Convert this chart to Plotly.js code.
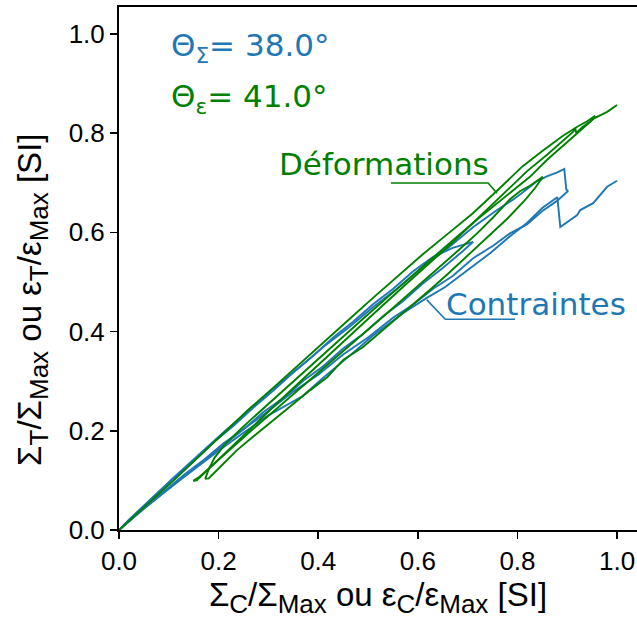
<!DOCTYPE html>
<html>
<head>
<meta charset="utf-8">
<script src="https://cdn.plot.ly/plotly-3.0.1.min.js"></script>
<style>html,body{margin:0;padding:0;background:#fff;}#chart{width:637px;height:621px;}</style>
</head>
<body>
<div id="chart"></div>
<script>
// ---- Contraintes (stress) paths, normalised ----
const sigLoadA_x = [0, 0.02, 0.05, 0.08, 0.11, 0.15, 0.19, 0.23, 0.27, 0.31, 0.35, 0.39, 0.43, 0.47, 0.51, 0.55, 0.59, 0.63, 0.67, 0.711];
const sigLoadA_y = [0, 0.021, 0.049, 0.077, 0.104, 0.139, 0.177, 0.21, 0.247, 0.281, 0.318, 0.351, 0.388, 0.42, 0.455, 0.486, 0.521, 0.55, 0.569, 0.581];
const sigUnloadA_x = [0.711, 0.69, 0.65, 0.61, 0.57, 0.53, 0.49, 0.45, 0.41, 0.37, 0.33, 0.29, 0.25, 0.21, 0.17, 0.13, 0.09, 0.05, 0.02, 0];
const sigUnloadA_y = [0.581, 0.562, 0.528, 0.497, 0.461, 0.431, 0.395, 0.366, 0.33, 0.301, 0.266, 0.238, 0.203, 0.175, 0.141, 0.111, 0.077, 0.045, 0.018, 0];
const sigLoadB_x = [0, 0.03, 0.07, 0.11, 0.16, 0.21, 0.26, 0.31, 0.36, 0.41, 0.46, 0.51, 0.56, 0.61, 0.66, 0.71, 0.759, 0.791, 0.811, 0.839, 0.859, 0.88, 0.894, 0.898, 0.902];
const sigLoadB_y = [0, 0.03, 0.068, 0.106, 0.152, 0.197, 0.24, 0.285, 0.326, 0.369, 0.407, 0.449, 0.488, 0.53, 0.568, 0.61, 0.645, 0.666, 0.681, 0.703, 0.713, 0.721, 0.728, 0.686, 0.684];
const sigUnloadB_x = [0.902, 0.88, 0.85, 0.819, 0.785, 0.751, 0.711, 0.67, 0.63, 0.59, 0.55, 0.5, 0.45, 0.4, 0.35, 0.3, 0.25, 0.2, 0.15, 0.1, 0.05, 0.02, 0];
const sigUnloadB_y = [0.684, 0.664, 0.643, 0.616, 0.598, 0.573, 0.548, 0.512, 0.486, 0.454, 0.428, 0.388, 0.354, 0.313, 0.279, 0.24, 0.203, 0.163, 0.124, 0.084, 0.043, 0.017, 0];
const sigLoadC_x = [0, 0.04, 0.09, 0.14, 0.2, 0.25, 0.3, 0.369, 0.41, 0.458, 0.51, 0.57, 0.618, 0.655, 0.7, 0.745, 0.785, 0.819, 0.851, 0.88, 0.886, 0.906, 0.92, 0.926, 0.952, 0.98, 1.0];
const sigLoadC_y = [0, 0.035, 0.076, 0.114, 0.16, 0.196, 0.231, 0.27, 0.307, 0.347, 0.392, 0.437, 0.468, 0.49, 0.524, 0.558, 0.592, 0.619, 0.65, 0.671, 0.611, 0.625, 0.635, 0.645, 0.659, 0.692, 0.704];

// ---- Déformations (strain) paths, normalised ----
const epsLoad1_x = [0, 0.03, 0.07, 0.11, 0.16, 0.21, 0.26, 0.31, 0.36, 0.41, 0.46, 0.51, 0.56, 0.61, 0.66, 0.71, 0.76, 0.81, 0.85, 0.89, 0.92, 0.94, 0.956];
const epsLoad1_y = [0, 0.028, 0.064, 0.1, 0.148, 0.197, 0.243, 0.287, 0.333, 0.378, 0.423, 0.468, 0.513, 0.556, 0.597, 0.638, 0.685, 0.733, 0.764, 0.794, 0.813, 0.824, 0.835];
const epsUnload1_x = [0.956, 0.946, 0.92, 0.892, 0.859, 0.825, 0.791, 0.759, 0.725, 0.685, 0.64, 0.59, 0.54, 0.49, 0.44, 0.39, 0.34, 0.29, 0.25, 0.215, 0.192, 0.18, 0.173];
const epsUnload1_y = [0.835, 0.823, 0.8, 0.776, 0.746, 0.712, 0.685, 0.659, 0.631, 0.597, 0.558, 0.514, 0.47, 0.426, 0.381, 0.336, 0.292, 0.247, 0.209, 0.175, 0.146, 0.122, 0.103];
const epsLoad2_x = [0.173, 0.18, 0.203, 0.237, 0.269, 0.303, 0.343, 0.384, 0.418, 0.45, 0.49, 0.53, 0.584, 0.624, 0.66, 0.7, 0.74, 0.78, 0.815, 0.835, 0.851];
const epsLoad2_y = [0.103, 0.104, 0.127, 0.161, 0.188, 0.216, 0.248, 0.282, 0.308, 0.343, 0.369, 0.403, 0.45, 0.484, 0.516, 0.553, 0.59, 0.628, 0.665, 0.689, 0.712];
const epsUnload2_x = [0.851, 0.825, 0.805, 0.785, 0.751, 0.719, 0.685, 0.64, 0.59, 0.53, 0.47, 0.41, 0.343, 0.303, 0.263, 0.223, 0.183, 0.16, 0.149];
const epsUnload2_y = [0.712, 0.694, 0.683, 0.667, 0.63, 0.598, 0.567, 0.527, 0.483, 0.43, 0.378, 0.326, 0.268, 0.233, 0.198, 0.162, 0.127, 0.106, 0.099];
const epsLoad3_x = [0.149, 0.156, 0.18, 0.22, 0.27, 0.32, 0.37, 0.42, 0.47, 0.52, 0.57, 0.62, 0.67, 0.72, 0.77, 0.82, 0.86, 0.89, 0.912, 0.916, 0.918, 0.93, 0.956, 0.98, 1.0];
const epsLoad3_y = [0.099, 0.1, 0.123, 0.162, 0.21, 0.258, 0.305, 0.352, 0.398, 0.444, 0.49, 0.535, 0.58, 0.628, 0.676, 0.724, 0.757, 0.784, 0.803, 0.81, 0.8, 0.812, 0.831, 0.843, 0.857];

const tickVals = [0.0, 0.2, 0.4, 0.6, 0.8, 1.0];
const tickText = ["0.0", "0.2", "0.4", "0.6", "0.8", "1.0"];
const thetaSigma = "38.0";
const thetaEps = "41.0";

const BLUE = "#1f77b4";
const GREEN = "#008000";

function line(x, y, color) {
  return {x: x, y: y, type: "scatter", mode: "lines", line: {color: color, width: 1.9}, hoverinfo: "skip", showlegend: false};
}

const traces = [
  line(sigLoadA_x, sigLoadA_y, BLUE),
  line(sigUnloadA_x, sigUnloadA_y, BLUE),
  line(sigLoadB_x, sigLoadB_y, BLUE),
  line(sigUnloadB_x, sigUnloadB_y, BLUE),
  line(sigLoadC_x, sigLoadC_y, BLUE),
  line(epsLoad1_x, epsLoad1_y, GREEN),
  line(epsUnload1_x, epsUnload1_y, GREEN),
  line(epsLoad2_x, epsLoad2_y, GREEN),
  line(epsUnload2_x, epsUnload2_y, GREEN),
  line(epsLoad3_x, epsLoad3_y, GREEN)
];

const tickFont = {family: "Liberation Sans, Arial, sans-serif", size: 26, color: "#000"};
const titleFont = {family: "Liberation Sans, Arial, sans-serif", size: 33, color: "#000"};
const annFont = "DejaVu Sans, sans-serif";
const sb = s => "<sub><span style=\"font-size:26px\">" + s + "</span></sub>";

const layout = {
  width: 637, height: 621,
  margin: {l: 119, r: 0, t: 7, b: 91},
  paper_bgcolor: "#fff", plot_bgcolor: "#fff",
  showlegend: false,
  xaxis: {
    range: [0, 1.040], tickvals: tickVals, ticktext: tickText,
    showgrid: false, zeroline: false, showline: true, mirror: true,
    linecolor: "#000", linewidth: 2, ticks: "outside", ticklen: 7, tickwidth: 1.6, tickcolor: "#000",
    tickfont: tickFont,
    title: {text: "Σ" + sb("C") + "/Σ" + sb("Max") + " ou ε" + sb("C") + "/ε" + sb("Max") + " [SI]", font: titleFont, standoff: 5}
  },
  yaxis: {
    range: [0, 1.0544], tickvals: tickVals, ticktext: tickText,
    showgrid: false, zeroline: false, showline: true, mirror: false,
    linecolor: "#000", linewidth: 2, ticks: "outside", ticklen: 7, tickwidth: 1.6, tickcolor: "#000",
    tickfont: tickFont
  },
  shapes: [
    {type: "path", xref: "x", yref: "y", path: "M 0.546 0.6996 L 0.741 0.6996 L 0.759 0.679", line: {color: GREEN, width: 1.6}},
    {type: "path", xref: "x", yref: "y", path: "M 0.795 0.425 L 0.655 0.425 L 0.618 0.464", line: {color: BLUE, width: 1.6}}
  ],
  annotations: [
    {xref: "paper", yref: "paper", x: -0.166, y: 0.44, xanchor: "center", yanchor: "middle", showarrow: false, textangle: -90,
     text: "Σ" + sb("T") + "/Σ" + sb("Max") + " ou ε" + sb("T") + "/ε" + sb("Max") + " [SI]", font: titleFont},
    {xref: "x", yref: "y", x: 0.100, y: 0.972, xanchor: "left", yanchor: "middle", showarrow: false,
     text: "Θ<sub>Σ</sub>= " + thetaSigma + "°", font: {family: annFont, size: 31, color: BLUE}},
    {xref: "x", yref: "y", x: 0.100, y: 0.869, xanchor: "left", yanchor: "middle", showarrow: false,
     text: "Θ<sub>ε</sub>= " + thetaEps + "°", font: {family: annFont, size: 31, color: GREEN}},
    {xref: "x", yref: "y", x: 0.318, y: 0.738, xanchor: "left", yanchor: "middle", showarrow: false,
     text: "Déformations", font: {family: annFont, size: 31, color: GREEN}},
    {xref: "x", yref: "y", x: 0.652, y: 0.4556, xanchor: "left", yanchor: "middle", showarrow: false,
     text: "Contraintes", font: {family: annFont, size: 31, color: BLUE}}
  ]
};

Plotly.newPlot("chart", traces, layout, {staticPlot: true, displayModeBar: false});
</script>
</body>
</html>
